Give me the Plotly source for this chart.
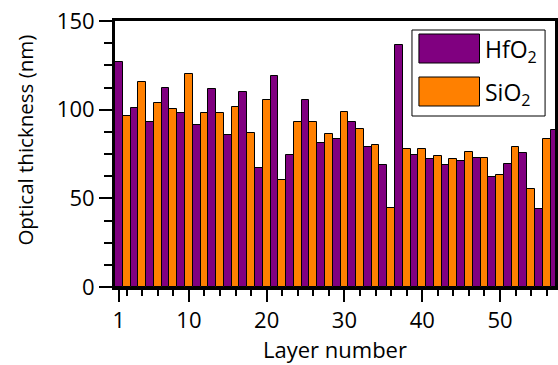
import plotly.graph_objects as go

# Optical thickness of each layer in the stack (nm); odd layers HfO2, even layers SiO2
layers = list(range(1, 58))
thickness = [
    126.7, 96.3, 100.8, 115.8, 93.2, 103.8, 112.4, 100.2, 97.9, 120.3,
    91.2, 97.9, 111.5, 97.9, 85.5, 101.5, 110.0, 86.7, 67.1, 105.5,
    119.0, 60.2, 74.6, 93.2, 105.3, 93.2, 81.0, 86.3, 83.5, 98.5,
    93.2, 88.9, 78.8, 80.1, 68.6, 44.6, 136.7, 78.0, 74.2, 78.0,
    72.0, 73.9, 68.6, 72.4, 71.1, 76.1, 72.7, 72.7, 61.9, 63.2,
    69.6, 78.8, 75.6, 55.3, 44.0, 83.3, 88.5,
]
materials = ["HfO<sub>2</sub>", "SiO<sub>2</sub>"]
colors = ["#800080", "#FF8000"]

hf_x = [l for l in layers if l % 2 == 1]
hf_y = [t for l, t in zip(layers, thickness) if l % 2 == 1]
si_x = [l for l in layers if l % 2 == 0]
si_y = [t for l, t in zip(layers, thickness) if l % 2 == 0]

font = "Open Sans, Noto Sans, sans-serif"

fig = go.Figure()
for xs, ys, c in [(hf_x, hf_y, colors[0]), (si_x, si_y, colors[1])]:
    fig.add_trace(go.Bar(
        x=xs, y=ys, width=1.0,
        marker=dict(color=c, line=dict(color="black", width=1)),
        showlegend=False,
    ))

# plot area in pixels: x 115..558, y 21..287
L, R, T, B = 115, 558, 21, 287
def px(x):
    return (x - L) / (R - L)
def py(y):
    return (B - y) / (B - T)

shapes = [
    dict(type="rect", xref="paper", yref="paper",
         x0=px(414), x1=px(548), y0=py(116), y1=py(30),
         line=dict(color="black", width=1), fillcolor="white"),
]
annotations = [
    dict(xref="paper", yref="paper", x=px(24), y=py(140), text="Optical thickness (nm)",
         textangle=-90, showarrow=False, xanchor="center", yanchor="middle",
         font=dict(family=font, size=20.5, color="black")),
]
for i, (name, c) in enumerate(zip(materials, colors)):
    top = 34 + i * 43
    shapes.append(dict(type="rect", xref="paper", yref="paper",
                       x0=px(421), x1=px(482), y0=py(top + 29), y1=py(top),
                       line=dict(color="black", width=1), fillcolor=c))
    annotations.append(dict(xref="paper", yref="paper", x=px(486), y=py(top + 16),
                            text=name, showarrow=False, xanchor="left", yanchor="middle",
                            font=dict(family=font, size=23, color="black")))

fig.update_layout(
    width=558, height=365,
    margin=dict(l=L, r=0, t=T, b=365 - B),
    paper_bgcolor="white", plot_bgcolor="white",
    bargap=0, barmode="overlay",
    font=dict(family=font, size=22, color="black"),
    shapes=shapes, annotations=annotations,
)
fig.update_xaxes(
    range=[0.5, 57.07],
    tickvals=[1, 10, 20, 30, 40, 50],
    ticks="outside", ticklen=12, tickwidth=2, tickcolor="black",
    minor=dict(tickvals=list(range(2, 58, 2)), ticks="outside", ticklen=6,
               tickwidth=2, tickcolor="black"),
    showline=True, linecolor="black", linewidth=3, mirror=True,
    showgrid=False, zeroline=False,
    title=dict(text="Layer number", standoff=10, font=dict(size=22)),
    tickfont=dict(size=22),
)
fig.update_yaxes(
    range=[0, 150],
    tickvals=[0, 50, 100, 150],
    ticks="outside", ticklen=13, tickwidth=2, tickcolor="black",
    minor=dict(dtick=12.5, tick0=0, ticks="outside", ticklen=8,
               tickwidth=2, tickcolor="black"),
    showline=True, linecolor="black", linewidth=3, mirror=True,
    showgrid=False, zeroline=False,
    tickfont=dict(size=22),
)

fig.write_html("out.html")
